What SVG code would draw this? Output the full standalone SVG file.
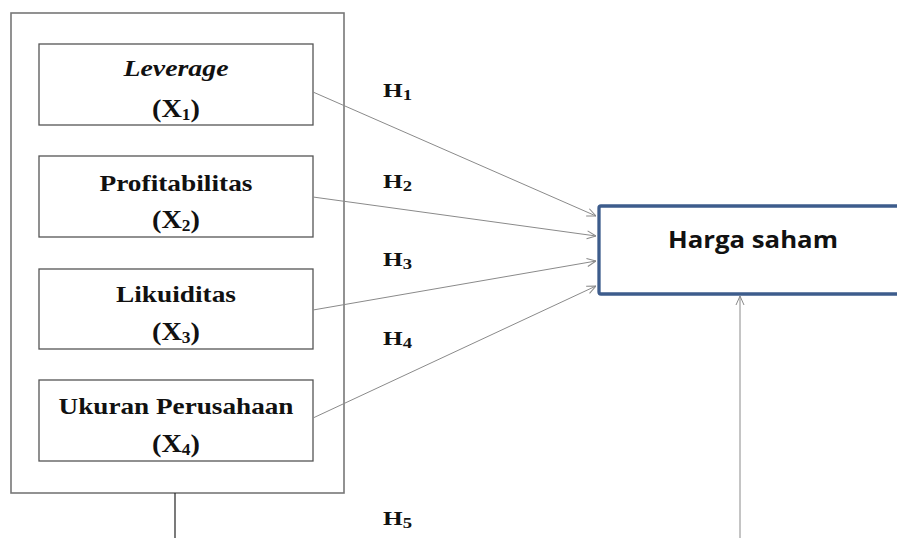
<svg xmlns="http://www.w3.org/2000/svg" width="897" height="538" viewBox="0 0 897 538">
<style>
.box{fill:#fff;stroke:#555;stroke-width:1.3}
.outer{fill:#fff;stroke:#777;stroke-width:1.6}
.t{font-family:"Liberation Serif","Times New Roman",serif;font-weight:bold;font-size:23.5px;fill:#111;text-anchor:middle}
.x{font-family:"Liberation Serif","Times New Roman",serif;font-weight:bold;font-size:26px;fill:#111}
.h{font-family:"Liberation Serif","Times New Roman",serif;font-weight:bold;font-size:19px;fill:#111}
.conn{stroke:#8a8a8a;stroke-width:1;fill:none;marker-end:url(#arr)}
</style>
<defs>
<marker id="arr" viewBox="0 0 10 10" refX="10" refY="5" markerWidth="10" markerHeight="10" markerUnits="userSpaceOnUse" orient="auto">
<path d="M1,1 L10,5 L1,9" fill="none" stroke="#8a8a8a" stroke-width="1"/>
</marker>
</defs>
<rect width="897" height="538" fill="#fff"/>
<g id="group-x">
<rect class="outer" x="11" y="13" width="333" height="480"/>
</g>
<g id="x1">
<rect class="box" x="39" y="44" width="274" height="81"/>
<text class="t" x="176" y="76" font-style="italic" font-weight="normal" textLength="105" lengthAdjust="spacingAndGlyphs">Leverage</text>
<text class="x" x="152" y="117" textLength="48" lengthAdjust="spacingAndGlyphs">(X<tspan font-size="16" dy="3">1</tspan><tspan dy="-3">)</tspan></text>
</g>
<g id="x2">
<rect class="box" x="39" y="156" width="274" height="81"/>
<text class="t" x="176" y="191" textLength="153" lengthAdjust="spacingAndGlyphs">Profitabilitas</text>
<text class="x" x="152" y="228" textLength="48" lengthAdjust="spacingAndGlyphs">(X<tspan font-size="16" dy="3">2</tspan><tspan dy="-3">)</tspan></text>
</g>
<g id="x3">
<rect class="box" x="39" y="269" width="274" height="80"/>
<text class="t" x="176" y="302" textLength="120" lengthAdjust="spacingAndGlyphs">Likuiditas</text>
<text class="x" x="152" y="340" textLength="48" lengthAdjust="spacingAndGlyphs">(X<tspan font-size="16" dy="3">3</tspan><tspan dy="-3">)</tspan></text>
</g>
<g id="x4">
<rect class="box" x="39" y="380" width="274" height="81"/>
<text class="t" x="176" y="414" textLength="235" lengthAdjust="spacingAndGlyphs">Ukuran Perusahaan</text>
<text class="x" x="152" y="452" textLength="48" lengthAdjust="spacingAndGlyphs">(X<tspan font-size="16" dy="3">4</tspan><tspan dy="-3">)</tspan></text>
</g>
<g id="harga-saham">
<rect x="599" y="206" width="310" height="88" rx="2" fill="#fff" stroke="#3d5c8c" stroke-width="3.3"/>
<text x="753" y="248" font-family="'Open Sans','Liberation Sans',sans-serif" font-weight="bold" font-size="23.5" fill="#111" text-anchor="middle" textLength="170" lengthAdjust="spacingAndGlyphs">Harga saham</text>
</g>
<g id="connectors">
<line class="conn" x1="313" y1="92" x2="596" y2="216"/>
<line class="conn" x1="313" y1="197" x2="596" y2="236"/>
<line class="conn" x1="313" y1="310" x2="596" y2="261"/>
<line class="conn" x1="313" y1="418" x2="596" y2="286"/>
<line x1="175" y1="493" x2="175" y2="538" stroke="#222" stroke-width="1.2"/>
<line class="conn" x1="740" y1="538" x2="740" y2="296"/>
</g>
<g id="labels">
<text class="h" x="383" y="97" textLength="29" lengthAdjust="spacingAndGlyphs">H<tspan font-size="14" dy="3">1</tspan></text>
<text class="h" x="383" y="188" textLength="29" lengthAdjust="spacingAndGlyphs">H<tspan font-size="14" dy="3">2</tspan></text>
<text class="h" x="383" y="266" textLength="29" lengthAdjust="spacingAndGlyphs">H<tspan font-size="14" dy="3">3</tspan></text>
<text class="h" x="383" y="345" textLength="29" lengthAdjust="spacingAndGlyphs">H<tspan font-size="14" dy="3">4</tspan></text>
<text class="h" x="383" y="525" textLength="29" lengthAdjust="spacingAndGlyphs">H<tspan font-size="14" dy="3">5</tspan></text>
</g>
</svg>
